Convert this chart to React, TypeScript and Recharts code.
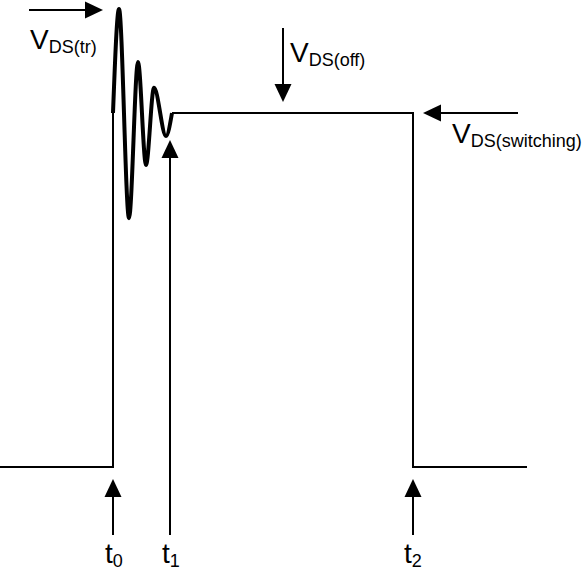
import { LineChart, Line, XAxis, YAxis, ReferenceLine, ReferenceDot } from "recharts";

// time: t0 = 0, t2 = 300 ; voltage: % of V_DS(off)
const riseTime = [-113, 0, 0];
const riseVolt = [0, 0, 100];

const ringTime = [0, 6, 16, 25, 33, 41, 53, 59];
const ringVolt = [100, 129.4, 70.3, 114.4, 85.3, 107.1, 93.5, 100];

const fallTime = [59, 300, 300, 414];
const fallVolt = [100, 100, 0, 0];

// arrows: tail -> tip
const arrowFromT = [-84, 170, 405, 0, 57, 300];
const arrowFromV = [129.1, 124, 100, -19.2, -19.2, -19.2];
const arrowToT = [-10, 170, 310, 0, 57, 300];
const arrowToV = [129.1, 103.1, 100, -3.4, 92.4, -3.4];

// labels
const labelMain = ["V", "V", "V", "t", "t", "t"];
const labelSub = ["DS(tr)", "DS(off)", "DS(switching)", "0", "1", "2"];
const labelT = [-83, 177, 339, -8, 49, 291];
const labelV = [118.1, 114.4, 91.5, -27.1, -27.1, -27.1];

const toPoints = (ts: number[], vs: number[]) => ts.map((t, i) => ({ t, v: vs[i] }));

const font = "'Liberation Sans', Arial, Helvetica, sans-serif";

function Arrow(props: any) {
  const { x1, y1, x2, y2 } = props;
  const dx = x2 - x1;
  const dy = y2 - y1;
  const len = Math.hypot(dx, dy) || 1;
  const ux = dx / len;
  const uy = dy / len;
  const hl = 18;
  const hw = 8.5;
  const bx = x2 - ux * hl;
  const by = y2 - uy * hl;
  const px = -uy * hw;
  const py = ux * hw;
  return (
    <g>
      <line x1={x1} y1={y1} x2={bx} y2={by} stroke="#000" strokeWidth={2} />
      <polygon
        points={`${x2},${y2} ${bx + px},${by + py} ${bx - px},${by - py}`}
        fill="#000"
      />
    </g>
  );
}

function makeLabel(main: string, sub: string) {
  return (props: any) => (
    <text x={props.cx} y={props.cy} fontFamily={font} fill="#000">
      <tspan fontSize={28}>{main}</tspan>
      <tspan fontSize={18} dy={4}>
        {sub}
      </tspan>
    </text>
  );
}

export default function App() {
  return (
    <div style={{ position: "absolute", left: 0, top: 0, width: 583, height: 572, background: "#fff" }}>
      <LineChart width={583} height={572} margin={{ top: 0, right: 0, bottom: 0, left: 0 }}>
        <XAxis dataKey="t" type="number" domain={[-113, 470]} allowDataOverflow hide />
        <YAxis type="number" domain={[-29.66, 131.92]} allowDataOverflow hide />

        <Line
          data={toPoints(riseTime, riseVolt)}
          dataKey="v"
          type="linear"
          stroke="#000"
          strokeWidth={2}
          dot={false}
          activeDot={false}
          isAnimationActive={false}
        />
        <Line
          data={toPoints(fallTime, fallVolt)}
          dataKey="v"
          type="linear"
          stroke="#000"
          strokeWidth={2}
          dot={false}
          activeDot={false}
          isAnimationActive={false}
        />
        <Line
          data={toPoints(ringTime, ringVolt)}
          dataKey="v"
          type="monotone"
          stroke="#000"
          strokeWidth={4}
          dot={false}
          activeDot={false}
          isAnimationActive={false}
        />

        {arrowFromT.map((t, i) => (
          <ReferenceLine
            key={"a" + i}
            segment={[
              { x: t, y: arrowFromV[i] },
              { x: arrowToT[i], y: arrowToV[i] },
            ]}
            shape={Arrow}
          />
        ))}

        {labelMain.map((m, i) => (
          <ReferenceDot
            key={"l" + i}
            x={labelT[i]}
            y={labelV[i]}
            shape={makeLabel(m, labelSub[i])}
          />
        ))}
      </LineChart>
    </div>
  );
}
